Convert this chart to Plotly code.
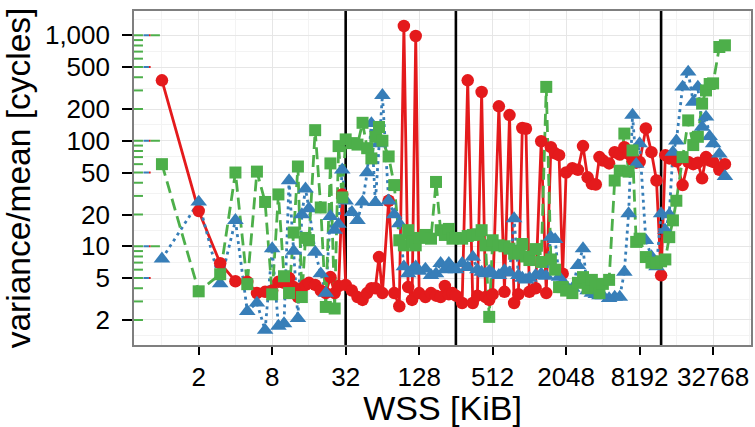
import math
import plotly.graph_objects as go

# ---- data ----
wss = [1, 2, 3, 4, 5, 6, 7,
       8, 9, 10, 11, 12, 13, 14, 15,
       16, 18, 20, 22, 24, 26, 28, 30,
       32, 36, 40, 44, 48, 52, 56, 60,
       64, 72, 80, 88, 96, 104, 112, 120,
       128, 144, 160, 176, 192, 208, 224, 240,
       256, 288, 320, 352, 384, 416, 448, 480,
       512, 576, 640, 704, 768, 832, 896, 960,
       1024, 1152, 1280, 1408, 1536, 1664, 1792, 1920,
       2048, 2304, 2560, 2816, 3072, 3328, 3584, 3840,
       4096, 4608, 5120, 5632, 6144, 6656, 7168, 7680,
       8192, 9216, 10240, 11264, 12288, 13312, 14336, 15360,
       16384, 18432, 20480, 22528, 24576, 26624, 28672, 30720,
       32768, 36864, 40960]

red = [374, 21.6, 6.9, 4.66, 4.6, 3.6, 3.7,
       3.8, 4.6, 4.5, 5.0, 4.1, 3.3, 4.0, 4.3,
       4.5, 4.3, 3.8, 3.6, 5.1, 3.6, 4.2, 31,
       4.3, 3.8, 3.3, 3.1, 3.6, 4.0, 4.0, 7.9,
       3.6, 27, 3.6, 2.7, 1225, 4.1, 3.1, 985,
       3.6, 3.3, 3.6, 3.4, 3.3, 4.2, 3.5, 3.6,
       3.4, 2.9, 374, 2.9, 3.4, 290, 3.3, 3.1,
       3.5, 212, 3.7, 175, 2.9, 3.5, 132, 130,
       3.7, 4.0, 99, 3.6, 87, 76, 73, 5.5,
       50, 55, 53, 89, 45, 39, 38.5, 70,
       65, 61, 78, 74, 87, 75, 66, 62,
       63, 131, 78, 42, 5.3, 73, 68, 70,
       64, 38, 63, 60, 62, 44, 70, 65,
       63, 53, 60]

blue = [7.6, 26.3, 4.43, 17.6, 2.42, 2.9, 1.6,
        9.5, 1.75, 1.85, 42, 9, 2.07, 20, 35,
        22.8, 8.8, 5.5, 3.6, 19.2, 14.2, 16.2, 53,
        27, 21, 17.6, 26.3, 50, 146, 26, 94,
        270, 27, 20, 16.4, 6.4, 5.5, 6.0, 6.4,
        5.8, 6.1, 5.3, 5.5, 6.9, 6.0, 6.9, 6.2,
        6.0, 6.9, 6.3, 7.9, 6.0, 5.7, 5.5, 5.8,
        5.5, 5.3, 5.9, 5.6, 18.3, 5.3, 5.0, 4.8,
        5.0, 5.3, 5.5, 5.2, 12.2, 11.6, 5.1, 4.5,
        4.2, 4.0, 6.6, 9.5, 3.8, 3.6, 3.5, 3.4,
        3.4, 3.2, 3.3, 3.3, 5.7, 20.4, 175, 60,
        94, 11.4, 8, 6.4, 20.4, 14.2, 20, 78,
        100, 324, 449, 233, 324, 135, 168, 110,
        94, 75, 46]

green = [60, 3.74, 5.43, 50, 4.37, 51, 26.3,
         3.5, 31, 5.2, 3.6, 13.5, 57, 3.3, 12,
         11.4, 126, 23.3, 2.66, 61, 2.57, 89, 29,
         103, 95, 92, 148, 85, 68, 109, 135,
         100, 71, 38, 11.4, 10.2, 14.2, 11, 10.2,
         12, 12.8, 11.8, 40.7, 14.2, 12.8, 14.6, 11.8,
         12, 11.8, 12.5, 12.8, 13, 14.2, 10.2, 2.14,
         11.4, 10.2, 10, 9.5, 8.5, 9, 10.5, 8,
         7.4, 9.4, 7.1, 324, 7.5, 6, 4.1, 4.1,
         3.8, 3.6, 4.5, 5.1, 4, 4.8, 4.2, 3.6,
         4.4, 4.8, 42, 52, 117, 51, 81, 11,
         11.8, 7.9, 7.0, 6.9, 7.2, 7.5, 12.2, 17.6,
         27, 70, 156, 91, 109, 225, 300, 345,
         350, 774, 803]

cache_lines = [32, 256, 12288]
x_ticks = [2, 8, 32, 128, 512, 2048, 8192, 32768]
x_minor = [1, 4, 16, 64, 256, 1024, 4096, 16384, 65536]
y_ticks = [2, 5, 10, 20, 50, 100, 200, 500, 1000]
y_tick_text = ["2", "5", "10", "20", "50", "100", "200", "500", "1,000"]
y_minor = [1.414, 3.162, 7.071, 14.14, 31.62, 70.71, 141.4, 316.2, 707.1, 1414]

RED, BLUE, GREEN = "#E41A1C", "#377EB8", "#4DAF4A"
FONT = "Liberation Sans, Arial, sans-serif"

x_range = [-0.229, 4.826]
y_range = [0.064, 3.23]
y_lo, y_hi = 10 ** y_range[0], 10 ** y_range[1]

fig = go.Figure()

# cache-size vertical lines (drawn first, under the data)
for c in cache_lines:
    fig.add_trace(go.Scatter(x=[c, c], y=[y_lo, y_hi], mode="lines",
                             line=dict(color="black", width=2.6),
                             hoverinfo="skip", showlegend=False, cliponaxis=True))

series = [
    (red, RED, "solid", "circle", 12.5),
    (blue, BLUE, "3px,4px", "triangle-up", 14.5),
    (green, GREEN, "12px,6px", "square", 12),
]
for vals, col, dash, sym, size in series:
    fig.add_trace(go.Scatter(x=wss, y=vals, mode="lines",
                             line=dict(color=col, width=2.8, dash=dash),
                             hoverinfo="skip", showlegend=False))
for vals, col, dash, sym, size in series:
    fig.add_trace(go.Scatter(x=wss, y=vals, mode="markers",
                             marker=dict(color=col, symbol=sym, size=size, line=dict(width=0)),
                             showlegend=False))

shapes = []
# log ticks on the left side
pw = 755 - 134 - 2
def seg(y, a, b, col):
    shapes.append(dict(type="line", xref="x domain", yref="y", x0=a / pw, x1=b / pw,
                       y0=y, y1=y, line=dict(color=col, width=2), layer="above"))

for d in [1, 10, 100, 1000]:
    for m in range(1, 10):
        v = m * d
        lv = math.log10(v)
        if lv < y_range[0] or lv > y_range[1]:
            continue
        seg(v, 0, 9, GREEN)
        if m in (1, 5):
            seg(v, 9.5, 15, BLUE)
            seg(v, 15, 16.7, RED)
        if m == 1:
            seg(v, 16.7, 26, GREEN)

fig.update_layout(
    width=755, height=427,
    margin=dict(l=134, r=2, t=11, b=82),
    paper_bgcolor="white", plot_bgcolor="white",
    font=dict(family=FONT, color="black", size=26),
    shapes=shapes,
    xaxis=dict(type="log", range=x_range, tickmode="array", tickvals=x_ticks,
               ticktext=[str(t) for t in x_ticks],
               ticks="outside", ticklen=8, tickwidth=2.2, tickcolor="black",
               showline=True, linecolor="#7f7f7f", linewidth=1.6, mirror=True,
               showgrid=True, gridcolor="#e6e6e6", gridwidth=1.3, zeroline=False,
               minor=dict(tickvals=x_minor, showgrid=True, gridcolor="#f3f3f3", gridwidth=1, ticklen=0),
               tickfont=dict(size=26),
               title=dict(text="WSS [KiB]", font=dict(size=34), standoff=8)),
    yaxis=dict(type="log", range=y_range, tickmode="array", tickvals=y_ticks, ticktext=y_tick_text,
               ticks="outside", ticklen=10, tickwidth=2.2, tickcolor="black", ticklabelstandoff=7,
               showline=True, linecolor="#7f7f7f", linewidth=1.6, mirror=True,
               showgrid=True, gridcolor="#e6e6e6", gridwidth=1.3, zeroline=False,
               minor=dict(tickvals=y_minor, showgrid=True, gridcolor="#f3f3f3", gridwidth=1, ticklen=0),
               tickfont=dict(size=26),
               title=dict(text="variance/mean [cycles]", font=dict(size=33.5), standoff=4)),
)

fig.write_html("out.html")
